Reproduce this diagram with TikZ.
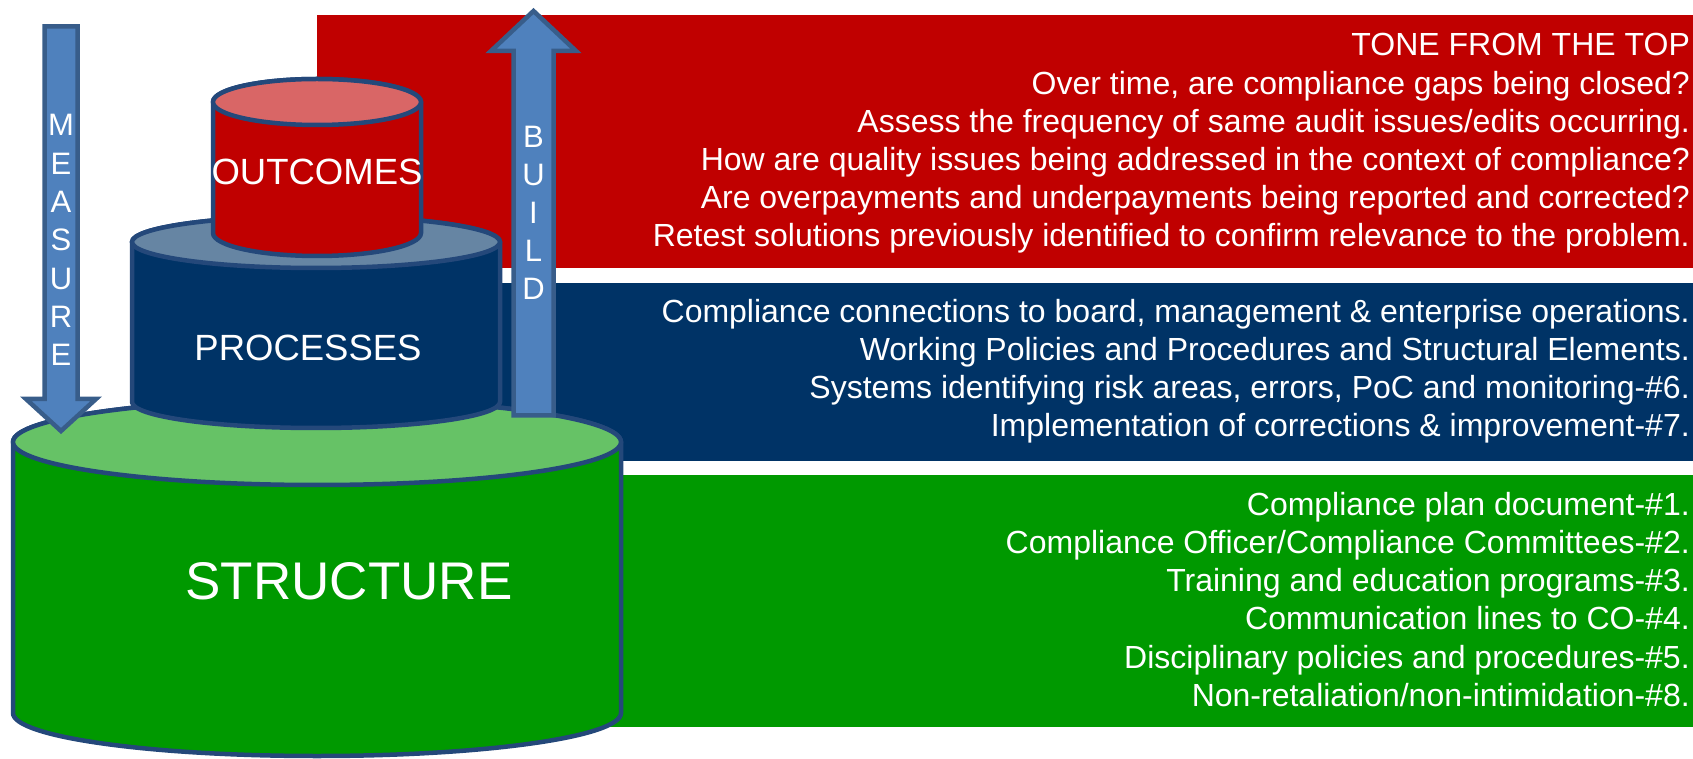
\documentclass[tikz,border=0pt]{standalone}
\usepackage{fontspec}
\setmainfont{Liberation Sans}
\definecolor{redband}{RGB}{192,0,0}
\definecolor{blueband}{RGB}{0,51,102}
\definecolor{greenband}{RGB}{0,153,0}
\definecolor{outtop}{RGB}{217,102,102}
\definecolor{proctop}{RGB}{102,133,163}
\definecolor{structop}{RGB}{102,194,102}
\definecolor{cylline}{RGB}{36,72,122}
\definecolor{arrowfill}{RGB}{79,129,189}
\definecolor{arrowline}{RGB}{56,93,138}
\tikzset{
  cyl/.style={draw=cylline, line width=4.5pt},
  band/.style={draw=none},
  rtext/.style={anchor=base east, inner sep=0pt, text=white, font=\fontsize{32}{38}\selectfont},
  cyltext/.style={anchor=base, inner sep=0pt, text=white},
  bigarrow/.style={draw=arrowline, fill=arrowfill, line width=4.5pt},
  arrowletter/.style={anchor=base, inner sep=0pt, text=white, font=\fontsize{31}{37}\selectfont},
}
\newcommand\mycyl[7]{%
  \draw[cyl, fill=#6] ({#1-#2},#3) -- ({#1-#2},#4)
    arc[start angle=180, end angle=360, x radius=#2, y radius=#5]
    -- ({#1+#2},#3)
    arc[start angle=0, end angle=180, x radius=#2, y radius=#5] -- cycle;
  \draw[cyl, fill=#7] (#1,#3) ellipse[x radius=#2, y radius=#5];
}
\begin{document}
\begin{tikzpicture}[x=1pt, y=1pt]
\useasboundingbox (0,0) rectangle (1693,758);
% bands
\fill[redband] (317,490) rectangle (1693,743);
\fill[blueband] (317,297) rectangle (1693,475);
\fill[greenband] (317,31) rectangle (1693,283);
% band texts
\foreach \t [count=\i] in {TONE FROM THE TOP,
  {Over time, are compliance gaps being closed?},
  Assess the frequency of same audit issues/edits occurring.,
  How are quality issues being addressed in the context of compliance?,
  Are overpayments and underpayments being reported and corrected?,
  Retest solutions previously identified to confirm relevance to the problem.}
  \node[rtext] (r\i) at (1690,{702-38.2*(\i-1)}) {\t};
\foreach \t [count=\i] in {Compliance connections to board{,} management \& enterprise operations.,
  Working Policies and Procedures and Structural Elements.,
  {Systems identifying risk areas, errors, PoC and monitoring-\#6.},
  Implementation of corrections \& improvement-\#7.}
  \node[rtext] (b\i) at (1690,{435-38*(\i-1)}) {\t};
\foreach \t [count=\i] in {Compliance plan document-\#1.,
  Compliance Officer/Compliance Committees-\#2.,
  Training and education programs-\#3.,
  Communication lines to CO-\#4.,
  Disciplinary policies and procedures-\#5.,
  Non-retaliation/non-intimidation-\#8.}
  \node[rtext] (g\i) at (1690,{243-38.3*(\i-1)}) {\t};
% cylinders
\mycyl{317}{304}{316}{45}{43}{greenband}{structop}
\mycyl{316}{184}{516}{356}{26}{blueband}{proctop}
\mycyl{317}{104}{656}{525}{23}{redband}{outtop}
\node[cyltext, font=\fontsize{53}{60}\selectfont] (structure) at (349,159) {STRUCTURE};
\node[cyltext, font=\fontsize{36.5}{44}\selectfont] (processes) at (308,397) {PROCESSES};
\node[cyltext, font=\fontsize{36.5}{44}\selectfont] (outcomes) at (317,573) {OUTCOMES};
% measure arrow
\draw[bigarrow] (44.5,731.5) -- (77.5,731.5) -- (77.5,359) -- (96,359) -- (61,327)
  -- (26,359) -- (44.5,359) -- cycle;
\foreach \l/\y [count=\i] in {M/622,E/583.7,A/545.4,S/507,U/468.7,R/430.4,E/392}
  \node[arrowletter] (m\i) at (61,\y) {\l};
% build arrow
\draw[bigarrow] (513.5,342.5) -- (553.5,342.5) -- (553.5,707) -- (576,707) -- (533.5,747)
  -- (491,707) -- (513.5,707) -- cycle;
\foreach \l/\y [count=\i] in {B/610,U/572,I/534,L/496,D/458}
  \node[arrowletter] (u\i) at (533.5,\y) {\l};
\end{tikzpicture}
\end{document}
